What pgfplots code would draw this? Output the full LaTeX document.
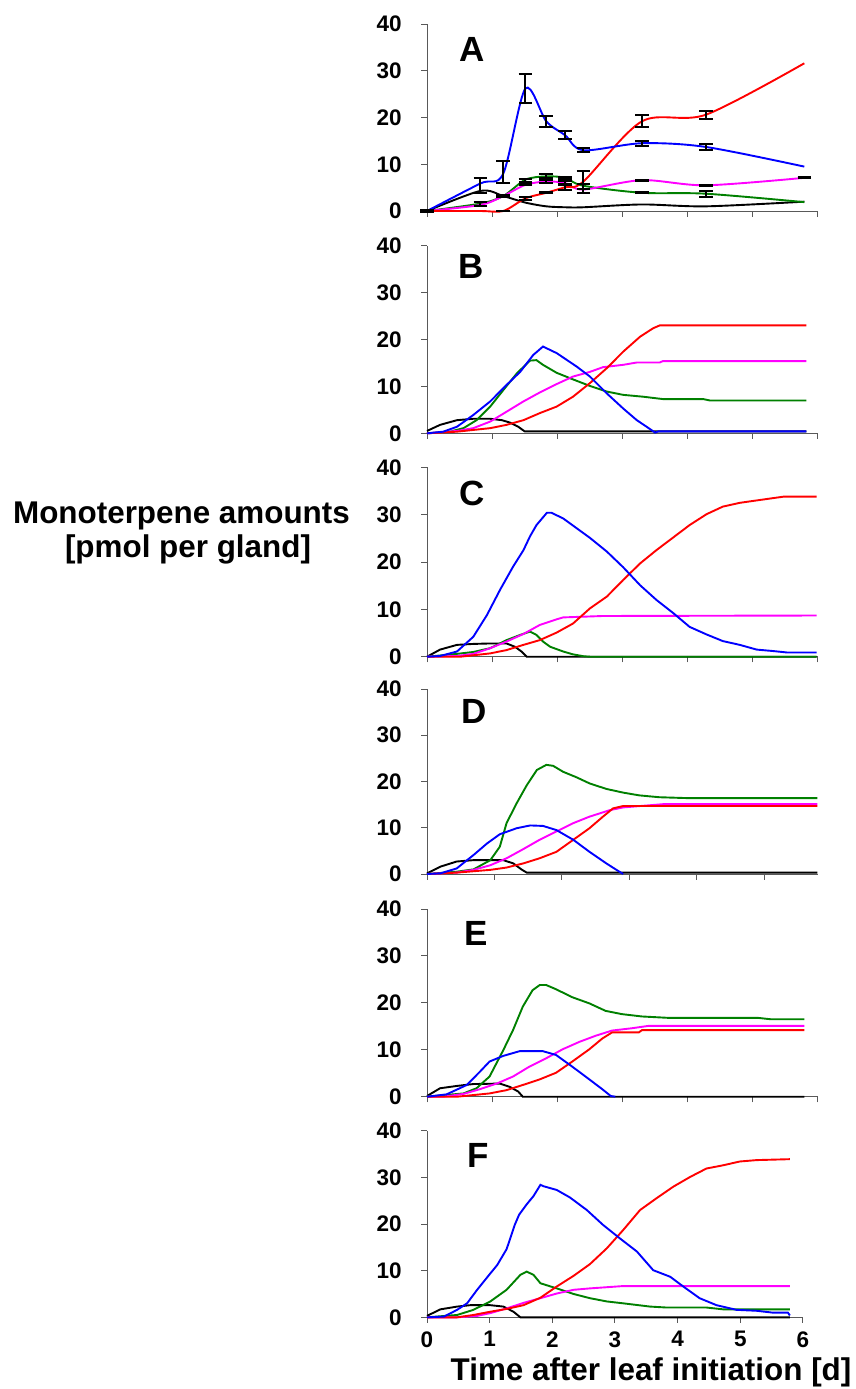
\documentclass[border=0pt]{standalone}
\usepackage{pgfplots}
\pgfplotsset{compat=1.18}
\usepackage{fontspec}
\setmainfont{Liberation Sans}

\definecolor{cblue}{RGB}{0,0,255}
\definecolor{cred}{RGB}{255,0,0}
\definecolor{cgreen}{RGB}{0,128,0}
\definecolor{cpink}{RGB}{255,0,255}

\tikzset{letter/.style={anchor=base west, inner sep=0pt, font=\bfseries\fontsize{17.5}{20}\selectfont}}

\pgfplotsset{
  panel/.style={
    scale only axis,
    anchor=south west,
    xmin=0, xmax=6, ymin=0, ymax=40,
    axis x line*=bottom, axis y line*=left,
    axis line style={-, black!65, line width=0.5pt},
    ytick={0,10,20,30,40},
    xtick={0,...,6},
    xticklabels={},
    tick style={black!65, line width=0.5pt},
    tick align=outside,
    major tick length=2.8pt,
    tick label style={font=\bfseries\fontsize{11.25}{13}\selectfont},
    /pgf/number format/assume math mode=true,
    yticklabel style={inner sep=0pt, anchor=east, xshift=-9.7pt},
    clip=false,
    every axis plot/.append style={line width=0.95pt, mark=none},
  },
  ebar/.style={draw=none, mark=none, forget plot,
    error bars/.cd, y dir=both, y explicit,
    error bar style={black, line width=1pt},
    error mark options={black, rotate=90, mark size=3.4pt, line width=1pt}},
}

\begin{document}
\begin{tikzpicture}
\path[use as bounding box] (0,0) rectangle (428pt,-694.5pt);

% ---------------- Panel A: measured amounts ----------------
\begin{axis}[panel, at={(213.5pt,-105.5pt)}, width=195.5pt, height=93.5pt]
\addplot[black, smooth] coordinates {
 (0,0) (0.82,4.3) (1.17,3.2) (1.51,1.8) (1.83,1.0) (2.12,0.8) (2.40,0.8) (3.30,1.4) (4.28,1.0) (5.79,2.0)};
\addplot[cgreen, smooth] coordinates {
 (0,0) (0.82,1.6) (1.17,3.2) (1.51,6.7) (1.83,7.4) (2.12,7.1) (2.40,5.4) (3.30,3.9) (4.28,3.7) (5.79,1.9)};
\addplot[cpink, smooth] coordinates {
 (0,0) (0.82,1.3) (1.17,3.2) (1.51,5.6) (1.83,6.3) (2.12,6.0) (2.40,4.6) (3.30,6.6) (4.28,5.5) (5.79,7.1)};
\addplot[cred, smooth] coordinates {
 (0,0) (0.82,0) (1.17,0) (1.51,2.7) (1.83,3.9) (2.12,5.1) (2.40,6.3) (3.30,19.2) (4.28,20.6) (5.79,31.6)};
\addplot[cblue, smooth] coordinates {
 (0,0) (0.82,5.9) (1.17,8.0) (1.51,26.2) (1.83,19.2) (2.12,16.2) (2.40,13.0) (3.30,14.5) (4.28,13.7) (5.79,9.5)};
% standard deviations
\addplot[ebar] table[x=x, y=y, y error=e] {
x y e
0 0 0.2
0.82 5.5 1.6
0.82 1.5 0.45
1.17 8.3 2.3
1.17 3.2 0.3
1.17 0 0.1
1.51 26.2 3.1
1.51 6.6 0.35
1.51 5.6 0.1
1.51 2.7 0.35
1.83 19.2 1.15
1.83 7.5 0.35
1.83 6.3 0.3
1.83 3.9 0.1
2.12 16.2 0.9
2.12 7.1 0.2
2.12 6.0 0.4
2.12 5.1 0.6
2.40 13.0 0.45
2.40 6.3 2.35
2.40 5.3 0.5
3.30 14.5 0.55
3.30 19.2 1.3
3.30 6.6 0.1
3.30 3.9 0.15
4.28 20.6 0.85
4.28 13.7 0.55
4.28 5.5 0.1
4.28 3.7 0.6
5.79 7.1 0.1
};
\node[letter] at (axis cs:0.5,31.9) {A};
\end{axis}

% ---------------- Panel B ----------------
\begin{axis}[panel, at={(213.5pt,-216.65pt)}, width=195.5pt, height=93.8pt]
\addplot[black] coordinates {
 (0,0.5) (0.2,1.8) (0.46,2.8) (0.71,3.1) (0.97,3.1) (1.15,2.8) (1.27,2.3) (1.40,1.4) (1.50,0.4) (5.82,0.4)};
\addplot[cgreen] coordinates {
 (0,0) (0.35,0.35) (0.56,1.1) (0.76,2.8) (0.97,5.7) (1.17,9.2) (1.38,12.8) (1.58,15.5) (1.68,15.6) (1.78,14.6)
 (1.99,12.9) (2.24,11.5) (2.50,10.1) (2.76,8.9) (3.01,8.2) (3.32,7.8) (3.62,7.3) (4.24,7.3) (4.34,7.0) (5.82,7.0)};
\addplot[cpink] coordinates {
 (0,0) (0.46,0.5) (0.71,1.1) (0.97,2.5) (1.22,4.6) (1.48,6.8) (1.73,8.7) (1.99,10.5) (2.24,12.1) (2.50,13.1)
 (2.70,14.1) (3.01,14.6) (3.22,15.1) (3.57,15.1) (3.62,15.4) (5.82,15.4)};
\addplot[cred] coordinates {
 (0,0) (0.46,0.35) (0.97,1.1) (1.22,1.8) (1.48,2.8) (1.73,4.3) (1.99,5.7) (2.24,7.8) (2.50,10.7) (2.76,13.9)
 (3.01,17.4) (3.27,20.6) (3.47,22.4) (3.57,23.0) (5.82,23.0)};
\addplot[cblue] coordinates {
 (0,0) (0.25,0.35) (0.46,1.4) (0.71,3.9) (0.97,6.8) (1.22,10.3) (1.43,13.1) (1.63,16.7) (1.78,18.5) (1.99,17.1)
 (2.30,14.2) (2.50,12.1) (2.76,8.5) (3.01,5.3) (3.22,2.8) (3.37,1.4) (3.50,0.15) (3.55,0.4) (5.82,0.4)};
\node[letter] at (axis cs:0.48,33.1) {B};
\end{axis}

% ---------------- Panel C ----------------
\begin{axis}[panel, at={(213.5pt,-328.35pt)}, width=195.5pt, height=94.7pt]
\addplot[black] coordinates {
 (0,0) (0.2,1.5) (0.46,2.5) (0.71,2.7) (0.97,2.8) (1.22,2.8) (1.35,2.1) (1.45,1.1) (1.53,0) (5.98,0)};
\addplot[cgreen] coordinates {
 (0,0) (0.46,0.6) (0.71,1.0) (0.97,1.8) (1.22,3.5) (1.43,4.6) (1.58,5.3) (1.68,4.6) (1.78,3.2) (1.89,2.1)
 (2.09,1.1) (2.24,0.5) (2.40,0.1) (2.5,0) (5.98,0)};
\addplot[cpink] coordinates {
 (0,0) (0.46,0.15) (0.71,0.6) (0.97,1.8) (1.22,3.2) (1.48,4.8) (1.73,6.7) (1.99,7.9) (2.09,8.3) (2.70,8.6) (5.98,8.7)};
\addplot[cred] coordinates {
 (0,0) (0.51,0) (0.97,0.7) (1.22,1.4) (1.48,2.5) (1.73,3.5) (1.99,5.1) (2.24,7.0) (2.50,10.2) (2.76,12.7)
 (3.01,16.2) (3.27,19.7) (3.52,22.5) (3.78,25.2) (4.03,27.8) (4.29,30.1) (4.54,31.7) (4.80,32.5) (5.16,33.2)
 (5.47,33.8) (5.98,33.8)};
\addplot[cblue] coordinates {
 (0,0) (0.2,0.15) (0.46,1.1) (0.71,4.2) (0.92,8.8) (1.12,14.1) (1.32,19.0) (1.48,22.5) (1.58,25.4) (1.68,27.8)
 (1.84,30.4) (1.91,30.4) (2.09,29.2) (2.30,27.1) (2.50,25.1) (2.76,22.2) (3.01,18.9) (3.27,15.1) (3.52,12.0)
 (3.78,9.2) (4.03,6.3) (4.29,4.7) (4.54,3.3) (4.80,2.5) (5.06,1.5) (5.31,1.2) (5.52,0.9) (5.98,0.9)};
\node[letter] at (axis cs:0.49,32.0) {C};
\end{axis}

% ---------------- Panel D ----------------
\begin{axis}[panel, at={(213.5pt,-437pt)}, width=195.5pt, height=92.5pt, xmax=5.8]
\addplot[black] coordinates {
 (0,0.15) (0.2,1.6) (0.44,2.7) (0.69,3.0) (1.13,3.0) (1.28,2.3) (1.40,1.0) (1.48,0.3) (5.79,0.3)};
\addplot[cgreen] coordinates {
 (0,0) (0.44,0.5) (0.69,1.0) (0.94,3.0) (1.08,5.9) (1.18,11.0) (1.33,15.3) (1.48,19.2) (1.63,22.5) (1.77,23.6)
 (1.87,23.4) (2.02,22.1) (2.22,20.9) (2.41,19.6) (2.66,18.4) (2.91,17.6) (3.15,17.0) (3.45,16.6) (3.89,16.4) (5.79,16.4)};
\addplot[cpink] coordinates {
 (0,0) (0.44,0.3) (0.69,0.9) (0.94,1.9) (1.18,3.4) (1.43,5.4) (1.67,7.4) (1.92,9.2) (2.17,11.0) (2.41,12.4)
 (2.71,13.8) (2.91,14.4) (3.50,15.1) (5.79,15.1)};
\addplot[cred] coordinates {
 (0,0) (0.44,0.3) (0.94,0.9) (1.18,1.4) (1.43,2.3) (1.67,3.4) (1.92,4.8) (2.17,7.4) (2.41,9.9) (2.61,12.4)
 (2.76,14.2) (2.91,14.7) (5.79,14.7)};
\addplot[cblue] coordinates {
 (0,0) (0.2,0.15) (0.44,1.2) (0.69,4.1) (0.89,6.6) (1.08,8.6) (1.33,9.9) (1.53,10.5) (1.72,10.4) (1.92,9.5)
 (2.17,7.4) (2.41,4.8) (2.66,2.3) (2.81,0.9) (2.91,0)};
\node[letter] at (axis cs:0.51,32.6) {D};
\end{axis}

% ---------------- Panel E ----------------
\begin{axis}[panel, at={(213.5pt,-548.35pt)}, width=195.5pt, height=93.85pt]
\addplot[black] coordinates {
 (0,0.15) (0.2,1.8) (0.46,2.3) (0.71,2.7) (1.12,2.8) (1.27,2.1) (1.40,1.1) (1.47,0) (5.79,0)};
\addplot[cgreen] coordinates {
 (0,0) (0.56,0.7) (0.76,1.8) (0.96,4.3) (1.17,9.9) (1.32,14.2) (1.47,19.2) (1.62,22.7) (1.73,23.8) (1.83,23.8)
 (1.98,22.9) (2.23,21.2) (2.49,19.9) (2.74,18.3) (2.99,17.6) (3.30,17.1) (3.71,16.8) (5.08,16.8) (5.28,16.5) (5.79,16.5)};
\addplot[cpink] coordinates {
 (0,0) (0.25,0) (0.56,0.6) (0.81,1.6) (1.07,2.8) (1.32,4.3) (1.57,6.4) (1.83,8.2) (2.08,10.1) (2.34,11.7)
 (2.59,13.0) (2.84,14.1) (3.15,14.6) (3.40,15.1) (5.79,15.1)};
\addplot[cred] coordinates {
 (0,0) (0.46,0) (0.96,0.7) (1.22,1.4) (1.47,2.5) (1.73,3.7) (1.98,5.1) (2.23,7.5) (2.49,10.1) (2.69,12.4)
 (2.84,13.7) (3.25,13.7) (3.30,14.2) (5.79,14.2)};
\addplot[cblue] coordinates {
 (0,0) (0.30,0.5) (0.61,2.5) (0.81,5.3) (0.96,7.5) (1.17,8.7) (1.42,9.7) (1.78,9.7) (1.98,8.9) (2.23,6.4)
 (2.49,3.7) (2.69,1.6) (2.82,0.15) (2.89,0)};
\node[letter] at (axis cs:0.575,32.3) {E};
\end{axis}

% ---------------- Panel F ----------------
\begin{axis}[panel, at={(213.5pt,-658.65pt)}, width=188pt, height=93.3pt,
  xticklabels={0,1,2,3,4,5,6},
  xticklabel style={inner sep=0pt, anchor=north, yshift=-4pt}]
\addplot[black] coordinates {
 (0,0.3) (0.21,1.7) (0.48,2.3) (0.69,2.6) (1.01,2.6) (1.22,2.3) (1.38,1.2) (1.49,0) (5.79,0)};
\addplot[cgreen] coordinates {
 (0,0) (0.48,0.5) (0.74,1.6) (1.01,3.4) (1.27,5.9) (1.49,9.1) (1.59,9.8) (1.70,9.1) (1.81,7.3) (2.07,6.2)
 (2.34,5.0) (2.60,4.1) (2.87,3.4) (3.13,3.0) (3.56,2.3) (3.82,2.1) (4.46,2.1) (4.73,1.7) (5.79,1.7)};
\addplot[cpink] coordinates {
 (0,0) (0.48,0) (0.80,0.3) (1.01,0.9) (1.27,1.9) (1.54,3.1) (1.81,4.1) (2.07,5.1) (2.34,5.9) (2.60,6.2)
 (3.13,6.7) (5.79,6.7)};
\addplot[cred] coordinates {
 (0,0) (0.48,0) (0.74,0.5) (1.01,1.2) (1.27,1.8) (1.54,2.6) (1.81,4.2) (2.07,6.6) (2.34,8.9) (2.60,11.4)
 (2.87,14.8) (3.13,18.7) (3.40,23.0) (3.66,25.5) (3.93,28.0) (4.20,30.1) (4.46,31.9) (4.73,32.6) (4.99,33.4)
 (5.26,33.7) (5.79,33.9)};
\addplot[cblue] coordinates {
 (0,0) (0.27,0.15) (0.48,1.6) (0.64,3.0) (0.80,5.9) (1.01,9.4) (1.12,11.2) (1.27,14.6) (1.40,19.8) (1.47,22.0)
 (1.59,24.2) (1.70,26.0) (1.81,28.4) (1.86,28.1) (2.07,27.3) (2.28,25.7) (2.55,23.0) (2.81,19.8) (3.08,16.9) (3.35,14.1)
 (3.61,10.1) (3.88,8.7) (4.09,6.6) (4.35,4.1) (4.62,2.6) (4.94,1.6) (5.26,1.4) (5.52,1.0) (5.76,1.0) (5.79,0.4)};
\node[letter] at (axis cs:0.646,32.2) {F};
\end{axis}

% axis titles
\node[anchor=base, inner sep=0pt, font=\bfseries\fontsize{15.7}{18}\selectfont] at (90.75pt,-261.5pt) {Monoterpene amounts};
\node[anchor=base, inner sep=0pt, font=\bfseries\fontsize{15.7}{18}\selectfont] at (94pt,-278.5pt) {[pmol per gland]};
\node[anchor=base, inner sep=0pt, font=\bfseries\fontsize{15.7}{18}\selectfont] at (325.5pt,-690pt) {Time after leaf initiation [d]};
\end{tikzpicture}
\end{document}
